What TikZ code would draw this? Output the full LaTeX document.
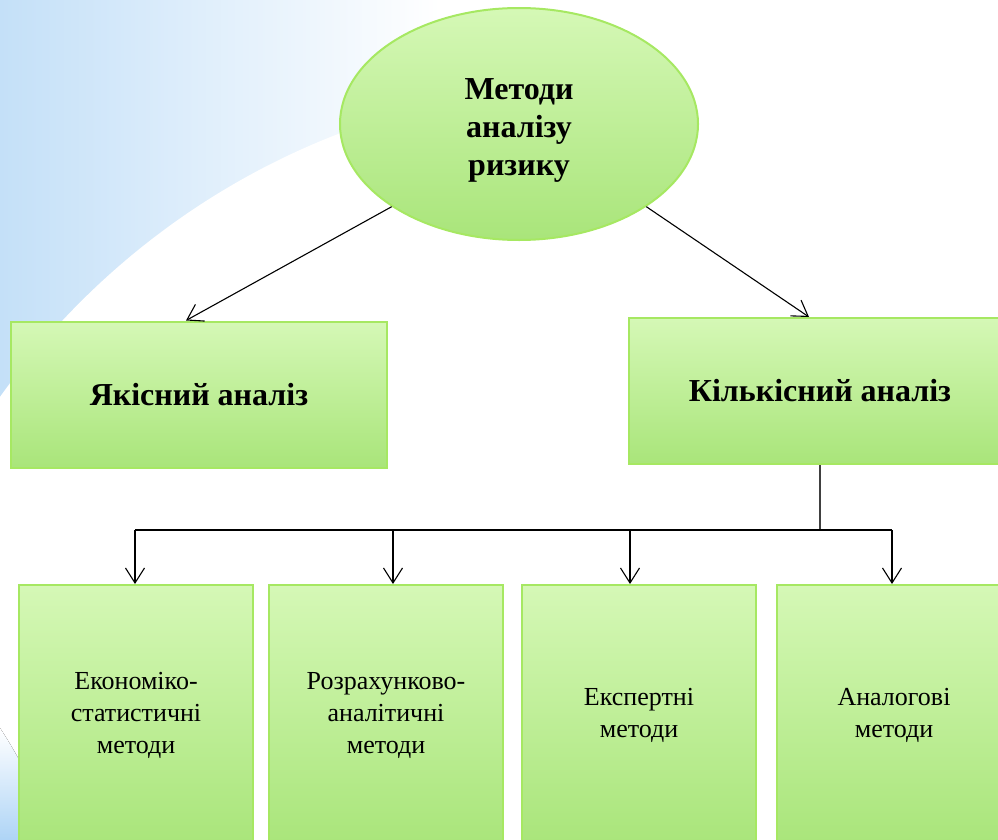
\documentclass[tikz,border=0pt]{standalone}
\usepackage{fontspec}
\setmainfont{Liberation Serif}
\usetikzlibrary{arrows.meta,shapes.geometric}

\definecolor{skyblue}{HTML}{C4E0F8}
\definecolor{skyblue2}{HTML}{AED4F6}
\definecolor{greentop}{HTML}{D5F8B6}
\definecolor{greenbot}{HTML}{A9E57A}
\definecolor{greenline}{HTML}{A6E862}

\tikzset{
  greenfill/.style={draw=greenline, line width=2bp, top color=greentop, bottom color=greenbot, inner sep=0pt, align=center},
  rootnode/.style={greenfill, ellipse, minimum width=358bp, minimum height=232bp},
  roottext/.style={font=\fontsize{32bp}{38bp}\selectfont\bfseries, align=center, yshift=-6bp},
  headbox/.style={greenfill, rectangle, minimum height=146bp,
    font=\fontsize{32bp}{38bp}\selectfont\bfseries},
  methodbox/.style={greenfill, rectangle, minimum width=234bp, minimum height=260bp,
    font=\fontsize{26bp}{32bp}\selectfont},
  arr/.style={-{Straight Barb[length=15bp,width=19bp]}, line width=1.1bp, draw=black},
}

\begin{document}
\begin{tikzpicture}[x=1bp,y=-1bp]
  \useasboundingbox (0,0) rectangle (998,840);
  \clip (0,0) rectangle (998,840);

  % background swooshes
  \fill[left color=skyblue, right color=white] (0,0) rectangle (440,840);
  \fill[white] (607,829) circle[radius=745bp];
  \fill[top color=white, middle color=skyblue2, bottom color=skyblue2]
    (0,728) .. controls (12,746) and (25,770) .. (40,798) -- (40,840) -- (0,840) -- cycle;

  % nodes
  \node[rootnode, label={[roottext]center:Методи\\аналізу\\ризику}] (root) at (519,124) {};
  \node[headbox, minimum width=376bp] (ya) at (199,394.5) {Якісний аналіз};
  \node[headbox, minimum width=382bp] (kb) at (820,391) {Кількісний аналіз};

  \node[methodbox] (ea) at (136,715) {Економіко-\\статистичні\\методи};
  \node[methodbox] (eb) at (386,715) {Розрахунково-\\аналітичні\\методи};
  \node[methodbox] (ec) at (639,715) {Експертні\\методи};
  \node[methodbox] (ed) at (894,715) {Аналогові\\методи};

  % bus coordinates
  \coordinate (t1) at (135,530);
  \coordinate (t2) at (393,530);
  \coordinate (t3) at (630,530);
  \coordinate (t4) at (892,530);

  % connectors
  \draw[arr] (root.213) -- ([xshift=-13bp]ya.north);
  \draw[arr] (root.327) -- ([xshift=-11bp]kb.north);

  \draw[line width=1.6bp, draw=black!75] (kb.south) -- (kb.south |- t1);
  \draw[line width=2bp] (t1) -- (t4);
  \draw[arr] (t1) -- (t1 |- ea.north);
  \draw[arr] (t2) -- (t2 |- eb.north);
  \draw[arr] (t3) -- (t3 |- ec.north);
  \draw[arr] (t4) -- (t4 |- ed.north);
\end{tikzpicture}
\end{document}
